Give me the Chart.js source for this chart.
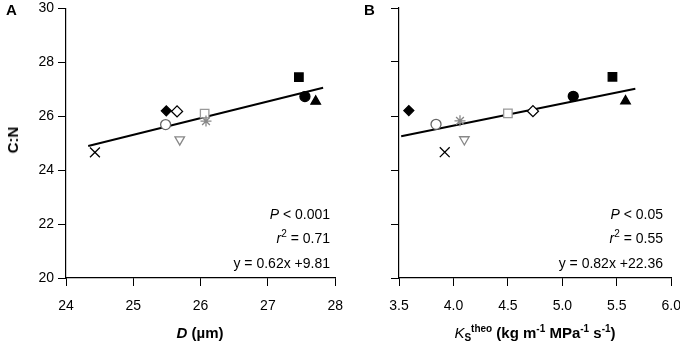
<!DOCTYPE html>
<html>
<head>
<meta charset="utf-8">
<script src="https://cdn.jsdelivr.net/npm/chart.js@4"></script>
<style>
body{margin:0;width:680px;height:349px;overflow:hidden;background:#fff;position:relative;font-family:"Liberation Sans",Arial,sans-serif;color:#000}
#wa{position:absolute;left:0;top:-4px;width:355px;height:353px}
#wb{position:absolute;left:340px;top:-4px;width:353px;height:353px}
.t{position:absolute;font-size:14px;white-space:nowrap;line-height:16px}
.b{font-weight:bold}
sup{font-size:10px;vertical-align:6px;line-height:0}
sub{font-size:10px;vertical-align:-3px;line-height:0}
</style>
</head>
<body>
<div id="wa"><canvas id="ca"></canvas></div>
<div id="wb"><canvas id="cb"></canvas></div>

<div class="t b" style="left:6px;top:2px;font-size:15px">A</div>
<div class="t b" style="left:364px;top:2px;font-size:15px">B</div>
<div class="t b" style="left:13px;top:140px;transform:translate(-50%,-50%) rotate(-90deg);font-size:15px">C:N</div>

<div class="t" style="right:350px;top:206px"><i>P</i> &lt; 0.001</div>
<div class="t" style="right:350px;top:230px"><i>r</i><sup>2</sup> = 0.71</div>
<div class="t" style="right:350px;top:255px">y = 0.62x +9.81</div>

<div class="t" style="right:17px;top:206px"><i>P</i> &lt; 0.05</div>
<div class="t" style="right:17px;top:230px"><i>r</i><sup>2</sup> = 0.55</div>
<div class="t" style="right:17px;top:255px">y = 0.82x +22.36</div>

<div class="t b" style="left:200px;top:325px;transform:translateX(-50%);font-size:15px"><i>D</i> (µm)</div>
<div class="t b" style="left:535px;top:325px;transform:translateX(-50%);font-size:15px"><i style="font-weight:normal">K</i><sub>S</sub><sup>theo</sup> (kg m<sup>-1</sup> MPa<sup>-1</sup> s<sup>-1</sup>)</div>

<script>
// marker look for each of the 10 samples (same order in both panels)
const markers = ['crossRot','circle','rectRot','rectRot','triangle','rect','star','rect','circle','triangle'];
const fills   = ['#000','#fff','#000','#fff','#fff','#fff','#888','#000','#000','#000'];
const edges   = ['#000','#666','#000','#000','#888','#999','#888','#000','#000','#000'];
const turns   = [0,0,0,0,180,0,0,0,0,0];
const sizes   = [7,5,5,5.5,5.5,6,5.5,6,5,5.5];

// values
const cn   = [24.66,25.69,26.20,26.18,25.13,26.10,25.82,27.45,26.73,26.55];
const diam = [24.43,25.48,25.49,25.65,25.69,26.06,26.08,27.46,27.55,27.71];
const ks   = [3.92,3.84,3.59,4.73,4.10,4.50,4.06,5.46,5.10,5.58];

// regression fits
const lineAx = [24.33,27.82], slopeA = 0.62, interA = 9.81;
const lineBx = [3.52,5.67],  slopeB = 0.82, interB = 22.36;

const yTicks = [20,22,24,26,28,30];

Chart.defaults.font.family = '"Liberation Sans", Arial, sans-serif';
Chart.defaults.font.size = 14;
Chart.defaults.color = '#000';

function makeChart(id, xs, xmin, xmax, step, lx, m, b, yw, dec, showY){
  const pts = xs.map((x,i)=>({x:x,y:cn[i]}));
  const ln = lx.map(x=>({x:x,y:m*x+b}));
  return new Chart(document.getElementById(id), {
    type:'scatter',
    data:{datasets:[
      {data:ln, type:'line', showLine:true, borderColor:'#000', borderWidth:2, pointRadius:0, fill:false, order:2},
      {data:pts, pointStyle:markers, pointBackgroundColor:fills, pointBorderColor:edges,
       pointRotation:turns, pointRadius:sizes, pointBorderWidth:1.3, order:1}
    ]},
    options:{
      responsive:true, maintainAspectRatio:false, animation:false,
      layout:{padding:{top:showY?0:12,right:0,left:0,bottom:0}},
      plugins:{legend:{display:false},tooltip:{enabled:false}},
      scales:{
        x:{type:'linear',min:xmin,max:xmax,
           ticks:{stepSize:step,padding:12,callback:v=>v.toFixed(dec)},
           grid:{drawOnChartArea:false,color:'#000',tickLength:8},
           border:{color:'#000',width:1.2},
           afterFit:s=>{s.height=71;}},
        y:{min:20,max:30,
           afterBuildTicks:s=>{s.ticks=yTicks.map(v=>({value:v}));},
           ticks:{display:showY,padding:4},
           grid:{drawOnChartArea:false,color:'#000',tickLength:8},
           border:{color:'#000',width:1.2},
           afterFit:s=>{s.width=yw;}}
      }
    }
  });
}

makeChart('ca', diam, 24, 28, 1, lineAx, slopeA, interA, 66, 0, true);
makeChart('cb', ks, 3.5, 6, 0.5, lineBx, slopeB, interB, 59, 1, false);
</script>
</body>
</html>
